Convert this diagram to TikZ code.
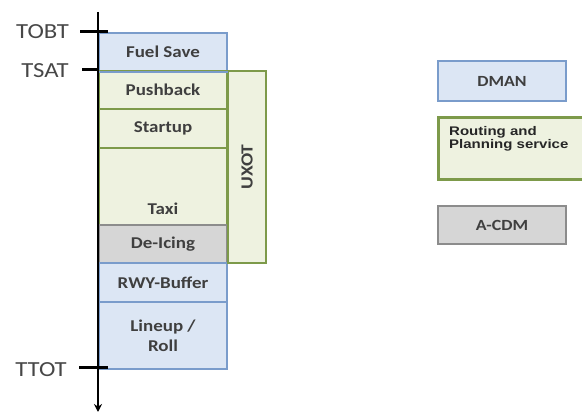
\documentclass[tikz,border=0pt]{standalone}
\usetikzlibrary{arrows.meta}
\usepackage{fontspec}
\setmainfont[FakeStretch=1.15]{Carlito}
\newfontfamily\arialf[FakeStretch=1.2]{Liberation Sans}
\definecolor{bfill}{HTML}{DCE6F4}
\definecolor{bline}{HTML}{7A9CCB}
\definecolor{gfill}{HTML}{EEF2E0}
\definecolor{gline}{HTML}{7D9A4A}
\definecolor{kfill}{HTML}{D6D6D6}
\definecolor{kline}{HTML}{8C8C8C}
\definecolor{tcol}{HTML}{3F3F3F}
\begin{document}
\begin{tikzpicture}[x=1pt,y=-1pt,
  seg/.style={draw, line width=2pt, anchor=north west, inner sep=0pt, minimum width=128pt, font=\bfseries\fontsize{16.5}{19}\selectfont, text=tcol},
  bluebox/.style={seg, draw=bline, fill=bfill},
  greenbox/.style={seg, draw=gline, fill=gfill},
  graybox/.style={seg, draw=kline, fill=kfill},
  tick/.style={line width=3pt},
  ticklabel/.style={anchor=east, inner sep=0pt, font=\fontsize{21.5}{24}\selectfont, text=black!72}
]
\useasboundingbox (0,0) rectangle (582,414);
% column segments
\node[bluebox, minimum height=38pt] (fuel) at (98,32) {Fuel Save};
\node[greenbox, minimum height=38pt] (push) at (98,70) {Pushback};
\node[greenbox, minimum height=39pt] (start) at (98,108) {Startup};
\node[greenbox, minimum height=77pt] (taxi) at (98,147) {};
\node[anchor=south, text=tcol, font=\bfseries\fontsize{16.5}{19}\selectfont, inner sep=0pt] (taxit) at ([yshift=11pt]taxi.south) {Taxi};
\node[graybox, minimum height=38pt] (deice) at (98,224) {De-Icing};
\node[bluebox, minimum height=39pt] (rwy) at (98,262) {RWY-Buffer};
\node[bluebox, minimum height=67pt, align=center] (lineup) at (98,301) {Lineup /\\[1pt]Roll};
\node[greenbox, minimum width=38pt, minimum height=192pt] (uxot) at (227,70) {};
\node[rotate=90, text=tcol, font=\bfseries\fontsize{17}{19}\selectfont] (uxott) at (uxot.center) {UXOT};
\draw[draw=bline, line width=2pt] (fuel.south west) -- (fuel.south east);
% time axis
\coordinate (axtop) at (98,12);
\coordinate (axbot) at (98,412);
\draw[line width=2.8pt, -{Stealth[length=8pt,width=8pt]}] (axtop) -- (axbot);
% ticks
\coordinate (tobt) at (98,32);
\coordinate (tsat) at (98,70);
\coordinate (ttot) at (98,368);
\draw[tick] ([xshift=-18pt]tobt) -- ([xshift=10pt]tobt);
\draw[tick] ([xshift=-16pt]tsat) -- (tsat);
\draw[tick] ([xshift=-19pt]ttot) -- ([xshift=10pt]ttot);
\node[ticklabel] (tobtl) at (69,32) {TOBT};
\node[ticklabel] (tsatl) at (69,71) {TSAT};
\node[ticklabel] (ttotl) at (67,370) {TTOT};
% legend
\node[bluebox, minimum width=128pt, minimum height=40pt, font=\bfseries\fontsize{15.5}{17}\selectfont] (dman) at (437,60) {DMAN};
\node[greenbox, line width=3.2pt, minimum width=148pt, minimum height=62pt] (route) at (437,116) {};
\node[anchor=west, align=left, inner sep=0pt, font=\arialf\bfseries\fontsize{12.5}{12.5}\selectfont, text=black!85] (routet) at ([xshift=12pt,yshift=10pt]route.west) {Routing and\\Planning service};
\node[graybox, minimum width=128pt, minimum height=38pt, font=\bfseries\fontsize{15.5}{17}\selectfont] (acdm) at (437,205) {A-CDM};
\end{tikzpicture}
\end{document}
